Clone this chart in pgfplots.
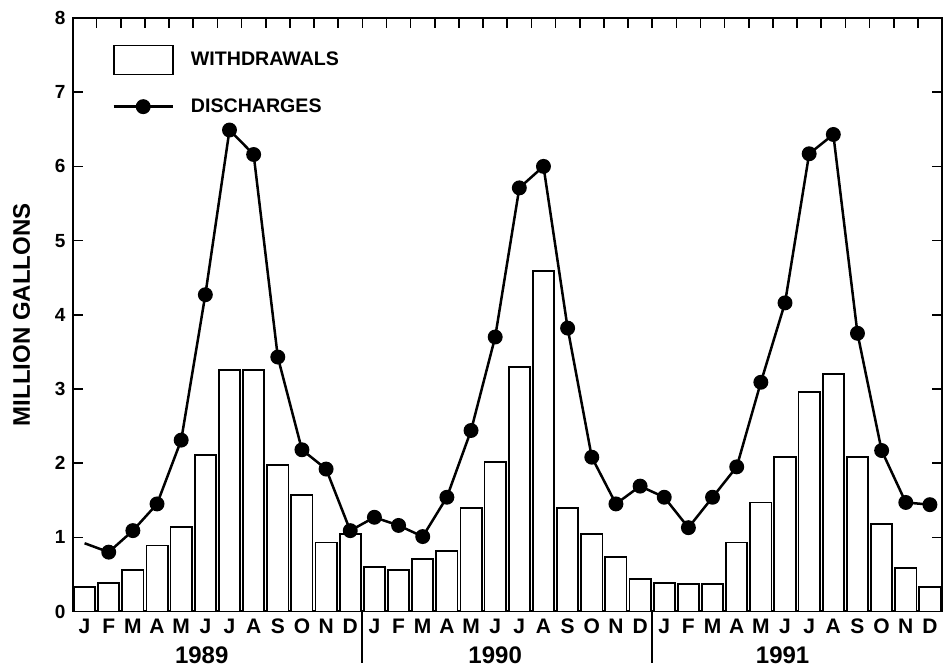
\documentclass[border=0pt]{standalone}
\usepackage{fontspec}
\setmainfont{Liberation Sans}
\usepackage{pgfplots}
\pgfplotsset{compat=1.18}

% monthly values, million gallons
\pgfplotstableread{
m  w
1  0.33
2  0.38
3  0.56
4  0.89
5  1.14
6  2.11
7  3.26
8  3.26
9  1.98
10 1.57
11 0.93
12 1.05
13 0.60
14 0.56
15 0.71
16 0.82
17 1.39
18 2.02
19 3.30
20 4.59
21 1.39
22 1.05
23 0.74
24 0.44
25 0.38
26 0.37
27 0.37
28 0.93
29 1.47
30 2.08
31 2.96
32 3.20
33 2.08
34 1.18
35 0.59
36 0.33
}\withdrawals

\pgfplotstableread{
m  d
1  0.92
2  0.80
3  1.09
4  1.45
5  2.31
6  4.27
7  6.49
8  6.16
9  3.43
10 2.18
11 1.92
12 1.09
13 1.27
14 1.16
15 1.01
16 1.54
17 2.44
18 3.70
19 5.71
20 6.00
21 3.82
22 2.08
23 1.45
24 1.69
25 1.54
26 1.13
27 1.54
28 1.95
29 3.09
30 4.16
31 6.17
32 6.43
33 3.75
34 2.17
35 1.47
36 1.44
}\discharges

\pgfplotsset{
    boxlegend/.style={legend image code/.code={\draw[fill=white, draw=black, line width=0.9pt]
        (0pt,-7.25pt) rectangle (29.5pt,7.25pt); \path (36pt,0pt);}},
    linelegend/.style={legend image code/.code={\draw[##1, mark repeat=2, mark phase=2]
        plot coordinates {(0pt,0pt) (14.75pt,0pt) (29.5pt,0pt)}; \path (36pt,0pt);}},
}

\begin{document}
\begin{tikzpicture}
\begin{axis}[
    scale only axis,
    width=434.75pt, height=296.75pt,
    xmin=0.5, xmax=36.5,
    ymin=0, ymax=8,
    clip=false,
    axis line style={line width=1pt},
    major tick style={line width=0.8pt, black},
    major tick length=5pt,
    tick align=inside,
    ytick={0,...,8},
    ytick pos=both,
    yticklabel pos=left,
    /pgf/number format/assume math mode=true,
    yticklabel style={font=\bfseries\fontsize{9.5}{11}\selectfont},
    xtick={1.5,2.5,...,35.5},
    xticklabels={},
    xtick pos=right,
    xticklabel pos=left,
    extra x ticks={1,...,36},
    extra x tick labels={J,F,M,A,M,J,J,A,S,O,N,D,J,F,M,A,M,J,J,A,S,O,N,D,J,F,M,A,M,J,J,A,S,O,N,D},
    extra x tick style={major tick length=0pt,
        xticklabel style={font=\bfseries\fontsize{10.5}{12}\selectfont}},
    ylabel={MILLION GALLONS},
    ylabel style={at={(axis description cs:-0.0585,0.5)}, anchor=center,
        font=\bfseries\fontsize{12}{14}\selectfont},
    legend style={at={(0.0455,0.956)}, anchor=north west, draw=none, fill=none,
        inner sep=0pt, row sep=9.5pt,
        font=\bfseries\fontsize{9.8}{11}\selectfont},
    legend cell align=left,
]

\addplot[ybar, bar width=0.88, fill=white, draw=black, line width=0.9pt, boxlegend]
    table[x=m, y=w] {\withdrawals};
\addlegendentry{WITHDRAWALS}

\addplot[black, line width=1.25pt, mark=*, mark size=3.1pt, mark phase=2,
    mark options={solid, fill=black}, linelegend]
    table[x=m, y=d] {\discharges};
\addlegendentry{DISCHARGES}

% year separators and labels
\draw[line width=0.9pt] (axis cs:12.5,0) -- ++(0pt,-25.5pt);
\draw[line width=0.9pt] (axis cs:24.5,0) -- ++(0pt,-25.5pt);
\node[font=\bfseries\fontsize{12}{14}\selectfont] at ([yshift=-21.75pt]axis cs:5.85,0) {1989};
\node[font=\bfseries\fontsize{12}{14}\selectfont] at ([yshift=-21.75pt]axis cs:18,0) {1990};
\node[font=\bfseries\fontsize{12}{14}\selectfont] at ([yshift=-21.75pt]axis cs:29.9,0) {1991};
\end{axis}
\pgfresetboundingbox
\path[use as bounding box] ([xshift=-36.25pt,yshift=-29.75pt]current axis.south west)
    rectangle ([xshift=0.5pt,yshift=9pt]current axis.north east);
\end{tikzpicture}
\end{document}
